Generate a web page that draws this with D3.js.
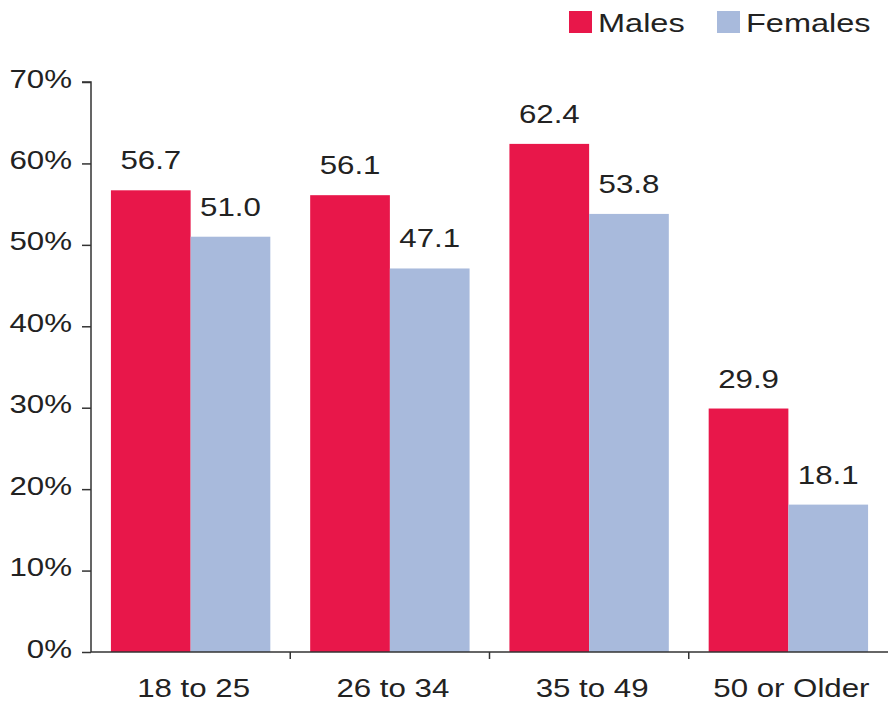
<!DOCTYPE html>
<html><head><meta charset="utf-8">
<script src="https://cdn.jsdelivr.net/npm/d3@7"></script>
<style>html,body{margin:0;padding:0;background:#fff;}svg{display:block;}</style>
</head><body>
<svg id="chart" width="888" height="704"></svg>
<script>
const categories = ["18 to 25", "26 to 34", "35 to 49", "50 or Older"];
const seriesNames = ["Males", "Females"];
const males = [56.7, 56.1, 62.4, 29.9];
const females = [51.0, 47.1, 53.8, 18.1];
const yTicks = [0, 10, 20, 30, 40, 50, 60, 70];
const colors = ["#e8174a", "#a8badc"];

const svg = d3.select("#chart");
const font = "Arial, 'Liberation Sans', Helvetica, sans-serif";
const mLeft = 91, mRight = 888, mTop = 82, mBottom = 652;
const SX = 1.25;

function label(parent, px, py, txt, anchor, size) {
  return parent.append("text")
    .attr("transform", `translate(${px},${py}) scale(${SX},1)`)
    .attr("text-anchor", anchor).attr("font-family", font).attr("font-size", size || 25)
    .attr("fill", "#222").text(txt);
}

const x = d3.scaleBand().domain(categories).range([mLeft, mRight]).paddingInner(0.2).paddingOuter(0.1);
const xs = d3.scaleBand().domain(seriesNames).range([0, x.bandwidth()]);
const y = d3.scaleLinear().domain([0, 70]).range([mBottom, mTop]);

const data = categories.map((c, i) => ({cat: c, vals: [males[i], females[i]]}));

const g = svg.append("g");
data.forEach(d => {
  d.vals.forEach((v, j) => {
    const bx = x(d.cat) + xs(seriesNames[j]);
    g.append("rect").attr("x", bx).attr("y", y(v)).attr("width", xs.bandwidth()).attr("height", y(0) - y(v)).attr("fill", colors[j]);
    label(g, bx + xs.bandwidth() / 2, y(v) - 21, v.toFixed(1), "middle", 25);
  });
});

// y axis
const yAxis = d3.axisLeft(y).tickValues(yTicks).tickFormat(d => d + "%").tickSize(9).tickPadding(10);
const ya = svg.append("g").attr("transform", `translate(${mLeft},0)`).call(yAxis);
ya.select(".domain").attr("stroke", "#333").attr("stroke-width", 1.5).attr("d", `M-9,${mTop}H0V${mBottom}`);
ya.selectAll(".tick line").attr("stroke", "#333").attr("stroke-width", 1.5);
ya.selectAll(".tick text").remove();
ya.selectAll(".tick").each(function(d) {
  label(d3.select(this), -19, 5, d + "%", "end", 25);
});

// x axis
const xa = svg.append("g").attr("transform", `translate(0,${mBottom})`);
xa.append("line").attr("x1", mLeft).attr("x2", mRight).attr("y1", 0).attr("y2", 0).attr("stroke", "#333").attr("stroke-width", 1.5);
categories.slice(1).forEach(c => {
  const bx = x(c) - x.step() * x.paddingInner() / 2;
  xa.append("line").attr("x1", bx).attr("x2", bx).attr("y1", 0).attr("y2", 7).attr("stroke", "#333").attr("stroke-width", 1.5);
});
categories.forEach(c => {
  label(xa, x(c) + x.bandwidth() / 2 + 3, 45, c, "middle", 25);
});

// legend
const legendX = [569, 717];
seriesNames.forEach((s, j) => {
  svg.append("rect").attr("x", legendX[j]).attr("y", 11).attr("width", 23).attr("height", 22).attr("fill", colors[j]);
  label(svg, legendX[j] + 29, 32, s, "start", 26);
});
</script>
</body></html>
